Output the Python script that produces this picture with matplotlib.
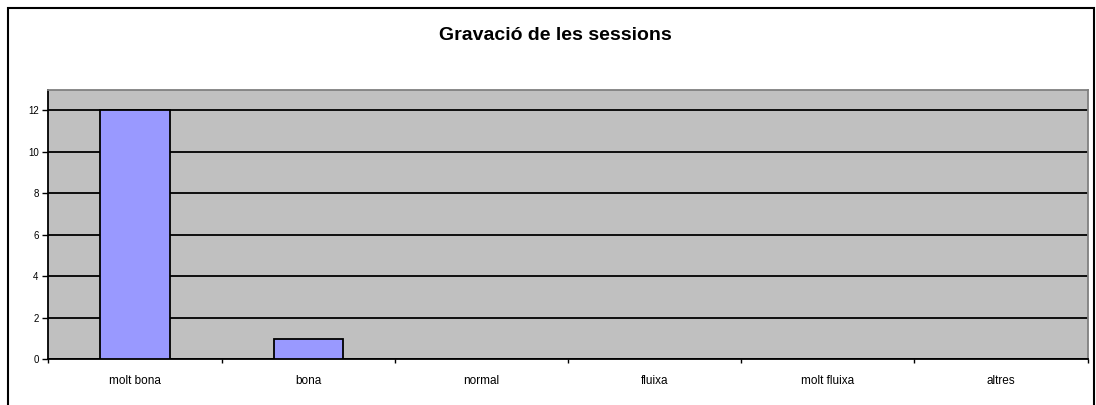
import matplotlib
matplotlib.use("Agg")
import matplotlib.pyplot as plt
from matplotlib.patches import Rectangle
import numpy as np

categories = ["molt bona", "bona", "normal", "fluixa", "molt fluixa", "altres"]
values = [12, 1, 0, 0, 0, 0]
yticks = [0, 2, 4, 6, 8, 10, 12]
title = "Gravació de les sessions"

W, H = 1096, 405
fig = plt.figure(figsize=(W / 100, H / 100), dpi=100)
fig.patch.set_facecolor("white")

# outer border (bottom edge lies just outside the picture, as in the reference)
fig.add_artist(Rectangle((7.5 / W, -0.01), (1094 - 7.5) / W, (H - 7.5) / H + 0.01,
                         transform=fig.transFigure, fill=False,
                         edgecolor="black", linewidth=1.5))

left, right, top, bottom = 48.3, 1087.7, 89.7, 359.3
ax = fig.add_axes([left / W, 1 - bottom / H, (right - left) / W, (bottom - top) / H])
ax.set_facecolor("#C0C0C0")

x = np.arange(len(categories))
ax.set_axisbelow(True)
ax.yaxis.grid(True, color="black", linewidth=1.3)
ax.bar(x, values, width=0.4, color="#9999FF", edgecolor="black", linewidth=1.3, zorder=3)

ax.set_xlim(-0.5, len(categories) - 0.5)
ax.set_ylim(0, 13)
ax.set_yticks(yticks)
ax.set_yticklabels([str(v) for v in yticks], fontsize=7, fontfamily="Liberation Sans")
ax.tick_params(axis="y", length=4, width=1, direction="out", pad=3)

ax.set_xticks(np.arange(-0.5, len(categories), 1.0))
ax.set_xticklabels([])
ax.set_xticks(x, minor=True)
ax.set_xticklabels(categories, minor=True, fontsize=8.5, fontfamily="Liberation Sans")
ax.tick_params(axis="x", which="major", length=3, width=1, direction="out")
ax.tick_params(axis="x", which="minor", length=0, pad=11)

for s in ["left", "bottom"]:
    ax.spines[s].set_color("black")
    ax.spines[s].set_linewidth(1.3)
for s in ["top", "right"]:
    ax.spines[s].set_color("#808080")
    ax.spines[s].set_linewidth(1.3)

fig.text(555.5 / W, 1 - 36 / H, title, ha="center", va="center", fontsize=14,
         fontweight="bold", fontfamily="Liberation Sans")

fig.savefig("out.png", dpi=100)
